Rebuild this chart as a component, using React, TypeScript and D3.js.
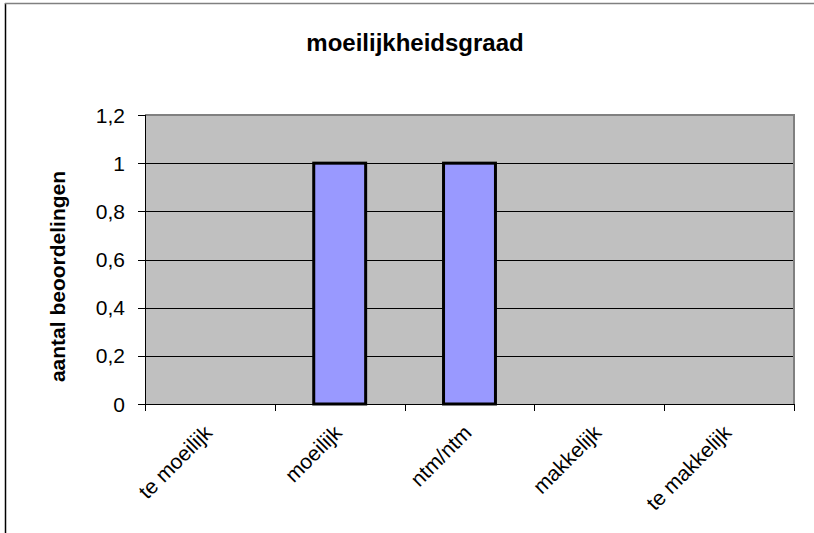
import React from "react";
import * as d3 from "d3";

const title = "moeilijkheidsgraad";
const yAxisTitle = "aantal beoordelingen";
const categories = ["te moeilijk", "moeilijk", "ntm/ntm", "makkelijk", "te makkelijk"];
const values = [0, 1, 1, 0, 0];
const yTickValues = [0, 0.2, 0.4, 0.6, 0.8, 1, 1.2];
const yTickLabels = ["0", "0,2", "0,4", "0,6", "0,8", "1", "1,2"];

const W = 814;
const H = 533;
const plot = { left: 145, right: 794, top: 115, bottom: 404 };
const FONT = "Arial, 'Liberation Sans', sans-serif";

export default function App() {
  const x = d3.scaleBand<string>().domain(categories).range([plot.left, plot.right]).paddingInner(0).paddingOuter(0);
  const y = d3.scaleLinear().domain([0, 1.2]).range([plot.bottom, plot.top]);
  const bw = x.bandwidth() * 0.4;
  const boundaries = categories.map((c) => x(c) as number).concat([plot.right]);

  return (
    <svg width={W} height={H} style={{ position: "absolute", left: 0, top: 0, background: "#fff" }}>
      {/* outer chart border */}
      <line x1={5.5} y1={3} x2={5.5} y2={H} stroke="#000" strokeWidth={1.5} />
      <line x1={5} y1={3.5} x2={W} y2={3.5} stroke="#808080" strokeWidth={1.5} />

      {/* title */}
      <text x={415} y={51} textAnchor="middle" fontFamily={FONT} fontWeight="bold" fontSize={24}>
        {title}
      </text>

      {/* plot area */}
      <rect x={plot.left} y={plot.top} width={plot.right - plot.left} height={plot.bottom - plot.top} fill="#C0C0C0" />

      {/* gridlines */}
      {yTickValues.slice(1).map((v) => (
        <line key={"g" + v} x1={plot.left} x2={plot.right} y1={Math.round(y(v)) + 0.5} y2={Math.round(y(v)) + 0.5} stroke="#000" strokeWidth={1} />
      ))}

      {/* plot border top/right */}
      <line x1={plot.left} x2={plot.right + 1} y1={plot.top} y2={plot.top} stroke="#808080" strokeWidth={2} />
      <line x1={plot.right} x2={plot.right} y1={plot.top} y2={plot.bottom} stroke="#808080" strokeWidth={2} />

      {/* bars */}
      {categories.map((c, i) =>
        values[i] > 0 ? (
          <rect
            key={"b" + c}
            x={(x(c) as number) + (x.bandwidth() - bw) / 2}
            y={y(values[i])}
            width={bw}
            height={y(0) - y(values[i])}
            fill="#9999FF"
            stroke="#000"
            strokeWidth={3}
          />
        ) : null
      )}

      {/* axes */}
      <line x1={plot.left + 0.5} x2={plot.left + 0.5} y1={plot.top} y2={plot.bottom} stroke="#000" strokeWidth={1} />
      <line x1={plot.left} x2={plot.right} y1={plot.bottom + 0.5} y2={plot.bottom + 0.5} stroke="#000" strokeWidth={1} />

      {/* y ticks */}
      {yTickValues.map((v, i) => (
        <g key={"yt" + v}>
          <line x1={plot.left - 7} x2={plot.left} y1={Math.round(y(v)) + 0.5} y2={Math.round(y(v)) + 0.5} stroke="#000" />
          <text x={125} y={y(v) + 7.5} textAnchor="end" fontFamily={FONT} fontSize={21}>
            {yTickLabels[i]}
          </text>
        </g>
      ))}

      {/* x ticks */}
      {boundaries.map((b, i) => (
        <line key={"xt" + i} x1={Math.round(b) + 0.5} x2={Math.round(b) + 0.5} y1={plot.bottom} y2={plot.bottom + 7} stroke="#000" />
      ))}

      {/* x labels */}
      {categories.map((c) => {
        const cx = (x(c) as number) + x.bandwidth() / 2 + 3.5;
        return (
          <text key={"xl" + c} transform={`translate(${cx},434) rotate(-45)`} textAnchor="end" fontFamily={FONT} fontSize={21}>
            {c}
          </text>
        );
      })}

      {/* y axis title */}
      <text transform={`translate(65,${(plot.top + plot.bottom) / 2 + 17}) rotate(-90)`} textAnchor="middle" fontFamily={FONT} fontWeight="bold" fontSize={21}>
        {yAxisTitle}
      </text>
    </svg>
  );
}
